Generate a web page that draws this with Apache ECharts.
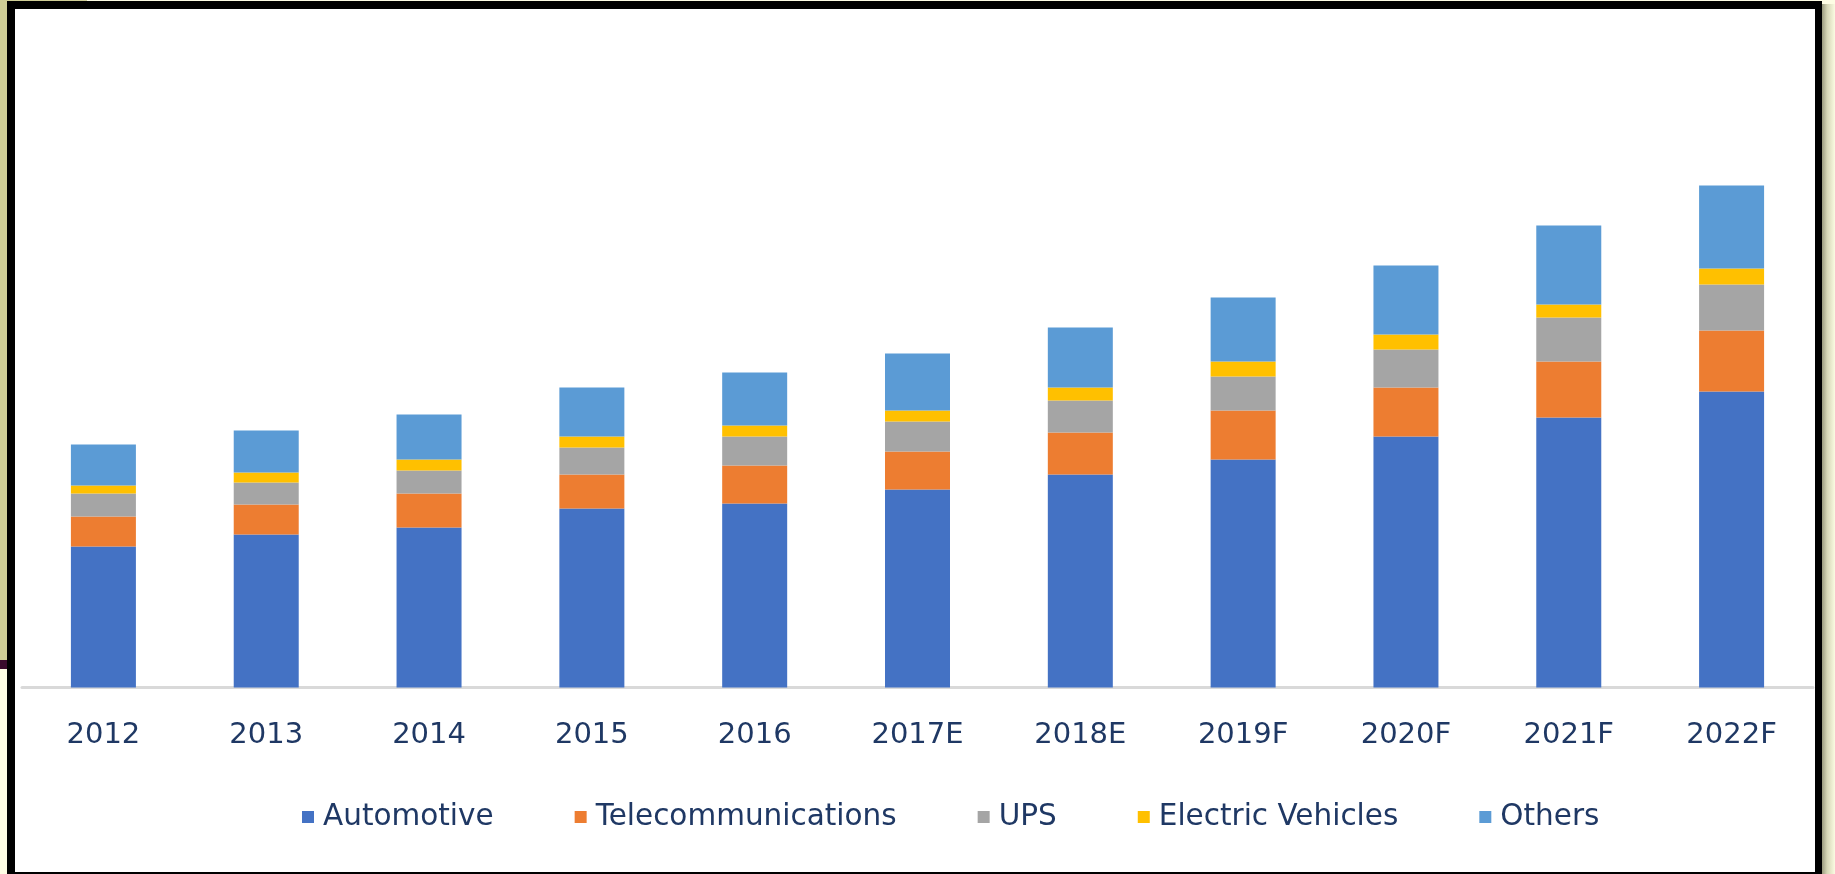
<!DOCTYPE html>
<html>
<head>
<meta charset="utf-8">
<script src="https://cdn.jsdelivr.net/npm/echarts@6/dist/echarts.min.js"></script>
<style>
	html, body { margin: 0; padding: 0; }
	body { width: 1835px; height: 874px; background: #fefde4; position: relative; overflow: hidden; }
	.khaki { position: absolute; left: 0; top: 0; width: 7px; height: 660px; background: #cfcd96; }
	.khakiTop { position: absolute; left: 0; top: 0; width: 87px; height: 1px; background: #cfcd96; }
	.purple { position: absolute; left: 0; top: 660px; width: 8px; height: 9px; background: #3a0b2c; }
	.shadow { position: absolute; left: 1822px; top: 4px; width: 13px; height: 870px;
		background: linear-gradient(to right, #9a9a7e, #d6d6b6 40%, #fbfbe2); }
	#frame { position: absolute; left: 7px; top: 1px; width: 1800px; height: 863px;
		border-style: solid; border-color: #000; border-width: 8px 7px 2px 8px; background: #fff; }
	#chart { width: 1800px; height: 863px; }
</style>
</head>
<body>
<div class="khaki"></div>
<div class="khakiTop"></div>
<div class="purple"></div>
<div class="shadow"></div>
<div id="frame"><div id="chart"></div></div>
<script>
// categories and stacked values
var years = ['2012', '2013', '2014', '2015', '2016', '2017E', '2018E', '2019F', '2020F', '2021F', '2022F'];
var automotive = [14.1, 15.3, 16.0, 17.9, 18.4, 19.8, 21.3, 22.8, 25.1, 27.0, 29.6];
var telecom = [3.0, 3.0, 3.4, 3.4, 3.8, 3.8, 4.2, 4.9, 4.9, 5.6, 6.1];
var ups = [2.3, 2.2, 2.3, 2.7, 2.9, 3.0, 3.2, 3.4, 3.8, 4.4, 4.6];
var ev = [0.8, 1.0, 1.1, 1.1, 1.1, 1.1, 1.3, 1.5, 1.5, 1.3, 1.6];
var others = [4.1, 4.2, 4.5, 4.9, 5.3, 5.7, 6.0, 6.4, 6.9, 7.9, 8.3];

var names = ['Automotive', 'Telecommunications', 'UPS', 'Electric Vehicles', 'Others'];
var colors = ['#4472c4', '#ed7d31', '#a5a5a5', '#ffc000', '#5b9bd5'];
var values = [automotive, telecom, ups, ev, others];

var textColor = '#1f3864';
var font = 'DejaVu Sans';

var chart = echarts.init(document.getElementById('chart'));

var series = names.map(function (name, i) {
	return {
		name: name,
		type: 'bar',
		stack: 'total',
		barWidth: 65,
		itemStyle: { color: colors[i] },
		data: values[i]
	};
});

var option = {
	animation: false,
	color: colors,
	grid: {
		left: 7,
		right: 2,
		top: 78.5,
		bottom: 184.5,
		containLabel: false
	},
	legend: {
		data: names,
		left: 282,
		top: 788,
		itemWidth: 12,
		itemHeight: 12,
		itemGap: 81,
		icon: 'rect',
		selectedMode: false,
		textStyle: {
			color: textColor,
			fontFamily: font,
			fontSize: 29.5,
			padding: [0, 0, 0, 4]
		}
	},
	xAxis: {
		type: 'category',
		data: years,
		axisTick: { show: false },
		axisLine: {
			lineStyle: { color: '#d9d9d9', width: 3 }
		},
		axisLabel: {
			color: textColor,
			fontFamily: font,
			fontSize: 29,
			margin: 33,
			interval: 0
		}
	},
	yAxis: {
		type: 'value',
		min: 0,
		max: 60,
		show: false
	},
	series: series
};

chart.setOption(option);
</script>
</body>
</html>
